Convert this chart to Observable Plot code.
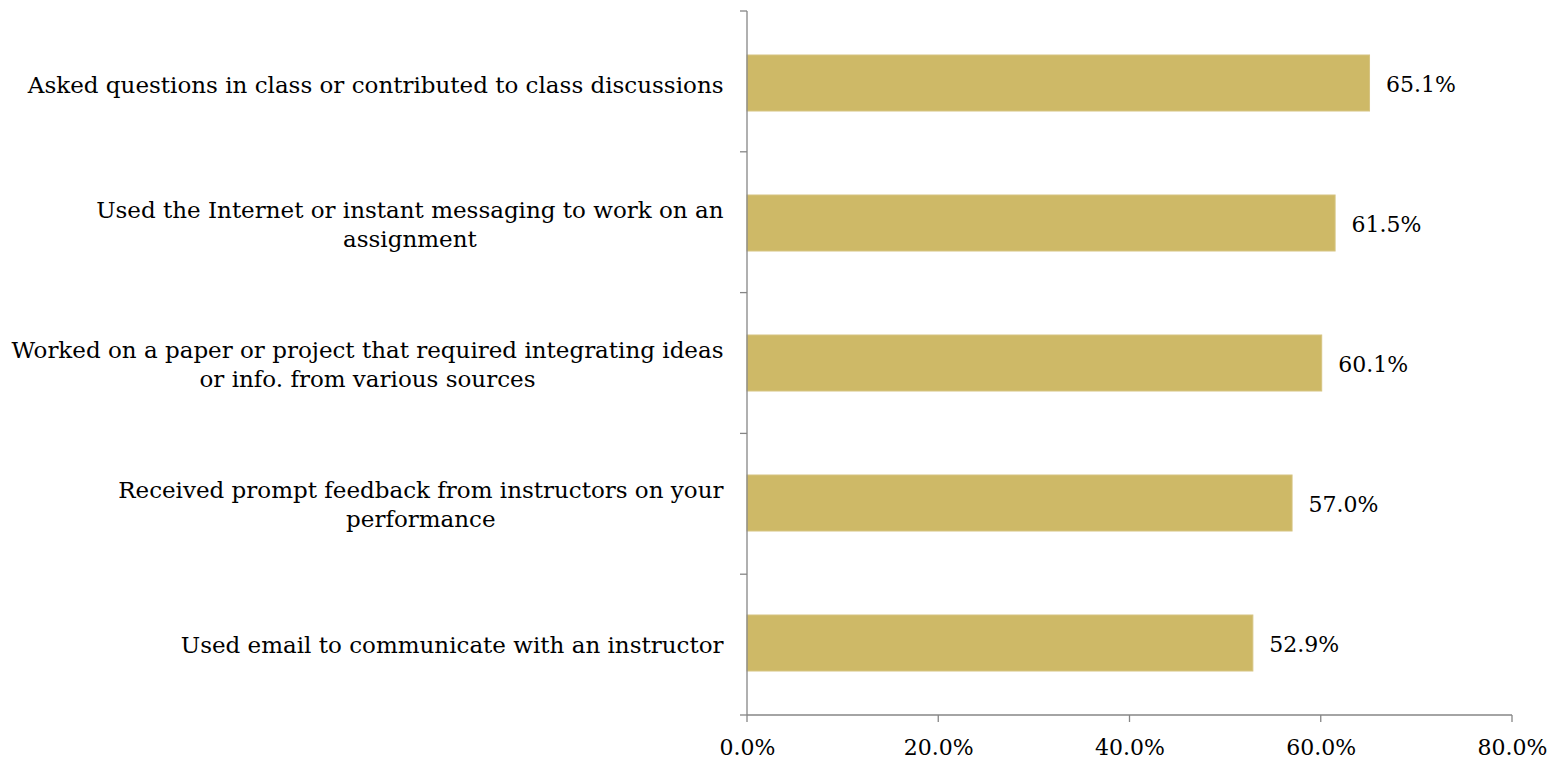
<!DOCTYPE html>
<html><head><meta charset="utf-8">
<script src="https://cdn.jsdelivr.net/npm/d3@7"></script>
<script src="https://cdn.jsdelivr.net/npm/@observablehq/plot@0.6"></script>
<style>body{margin:0;background:#fff}</style>
</head><body><div id="chart"></div>
<script>
const categories = [
  "Asked questions in class or contributed to class discussions",
  "Used the Internet or instant messaging to work on an\nassignment",
  "Worked on a paper or project that required integrating ideas\nor info. from various sources",
  "Received prompt feedback from instructors on your\nperformance",
  "Used email to communicate with an instructor"
];
const values = [0.651, 0.615, 0.601, 0.570, 0.529];
const xTicks = [0, 0.2, 0.4, 0.6, 0.8];

const data = categories.map((c, i) => ({category: c, value: values[i]}));
const fontFamily = "'DejaVu Serif', serif";
const labelSize = 23;
const valueSize = 22;
const axisColor = "#868686";
const barColor = "#CEB967";
const pct = d3.format(".1%");

// axis lines with ticks at band boundaries (drawn from the scales/dimensions)
const boundaryAxis = (index, scales, vals, dims) => {
  const {x} = scales;
  const g = d3.create("svg:g").attr("stroke", axisColor).attr("stroke-width", 1.3).attr("fill", "none");
  const x0 = x(0);
  const top = dims.marginTop, bottom = dims.height - dims.marginBottom;
  const n = categories.length;
  const step = (bottom - top) / n;
  g.append("line").attr("x1", x0).attr("x2", x0).attr("y1", top).attr("y2", bottom);
  for (let i = 0; i <= n; i++) {
    const yy = top + i * step;
    g.append("line").attr("x1", x0 - 7).attr("x2", x0).attr("y1", yy).attr("y2", yy);
  }
  g.append("line").attr("x1", x0).attr("x2", x(xTicks[xTicks.length - 1])).attr("y1", bottom).attr("y2", bottom);
  for (const t of xTicks) g.append("line").attr("x1", x(t)).attr("x2", x(t)).attr("y1", bottom).attr("y2", bottom + 7);
  return g.node();
};

const chart = Plot.plot({
  width: 1560,
  height: 761,
  marginLeft: 747,
  marginRight: 48,
  marginTop: 11,
  marginBottom: 46,
  style: {fontFamily, fontSize: labelSize + "px", color: "#000", background: "#fff"},
  x: {domain: [0, 0.8], label: null},
  y: {domain: categories, paddingInner: 0.6, paddingOuter: 0.3, label: null},
  marks: [
    Plot.barX(data, {x: "value", y: "category", fill: barColor, stroke: "#D6C482", strokeWidth: 1}),
    Plot.text(data, {x: "value", y: "category", text: d => pct(d.value), dx: 16, dy: 1, textAnchor: "start", fill: "#000", fontSize: valueSize}),
    Plot.axisY({tickSize: 0, tickPadding: 24, fontSize: labelSize, fill: "#000", lineHeight: 1.27}),
    Plot.axisX({ticks: xTicks, tickFormat: pct, tickSize: 0, tickPadding: 24, fontSize: valueSize, fill: "#000"}),
    boundaryAxis
  ]
});
document.getElementById("chart").appendChild(chart);

// center multi-line y labels on their longest line, keeping right edge fixed
chart.querySelectorAll('g[aria-label="y-axis tick label"] text').forEach(t => {
  const spans = t.querySelectorAll("tspan");
  if (spans.length > 1) {
    const maxW = d3.max(Array.from(spans), s => s.getComputedTextLength());
    t.setAttribute("text-anchor", "middle");
    spans.forEach(s => s.setAttribute("x", -maxW / 2));
  }
});
</script>
</body></html>
